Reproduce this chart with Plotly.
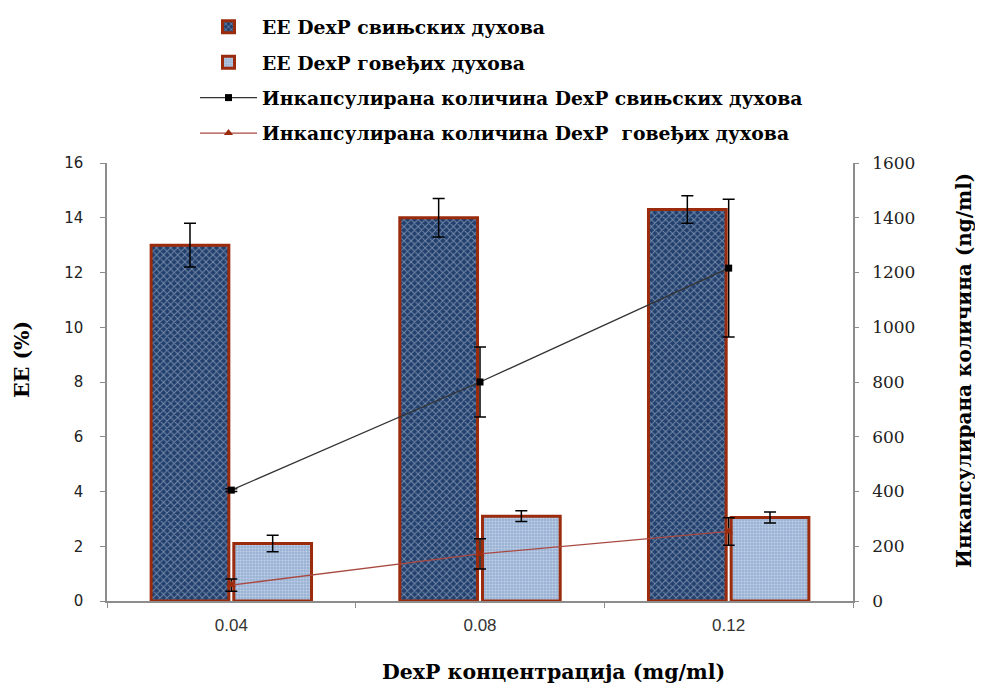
import plotly.graph_objects as go

categories = ["0.04", "0.08", "0.12"]

ee_swine = [13.0, 14.0, 14.3]
ee_swine_err = [0.8, 0.7, 0.5]
ee_beef = [2.1, 3.1, 3.05]
ee_beef_err = [0.3, 0.2, 0.2]

amt_swine = [405, 800, 1216]
amt_swine_err = [5, 128, 252]
amt_beef = [58, 172, 254]
amt_beef_err = [22, 55, 50]

names = [
    "EE DexP свињских духова",
    "EE DexP говеђих духова",
    "Инкапсулирана количина DexP свињских духова",
    "Инкапсулирана количина DexP  говеђих духова",
]

border = "#9a2b0c"
serif = "DejaVu Serif"

fig = go.Figure()
fig.add_trace(go.Bar(
    x=categories, y=ee_swine, name=names[0], legendgroup="a",
    marker=dict(color="#22406e", line=dict(color=border, width=3),
                pattern=dict(shape="x", fgcolor="#c9d4e4", bgcolor="#22406e", size=5, solidity=0.35)),
    error_y=dict(type="data", array=ee_swine_err, color="black", thickness=1.5, width=6),
))
fig.add_trace(go.Bar(
    x=categories, y=ee_beef, name=names[1], legendgroup="b",
    marker=dict(color="#98b1d4", line=dict(color=border, width=3),
                pattern=dict(shape=".", fgcolor="#eef2f8", bgcolor="#98b1d4", size=3, solidity=0.4)),
    error_y=dict(type="data", array=ee_beef_err, color="black", thickness=1.5, width=6),
))
fig.add_trace(go.Scatter(
    x=categories, y=amt_swine, name=names[2], legendgroup="c", yaxis="y2",
    mode="lines+markers",
    line=dict(color="#333333", width=1.3),
    marker=dict(symbol="square", size=7, color="black"),
    error_y=dict(type="data", array=amt_swine_err, color="black", thickness=1.5, width=6),
))
fig.add_trace(go.Scatter(
    x=categories, y=amt_beef, name=names[3], legendgroup="d", yaxis="y2",
    mode="lines+markers",
    line=dict(color="#a94a42", width=1.3),
    marker=dict(symbol="triangle-up", size=8, color="#9a2b0c"),
    error_y=dict(type="data", array=amt_beef_err, color="black", thickness=1.5, width=6),
))

# page-pixel plot area (body margin of 8px shifts everything)
PL, PR, PT, PB = 107, 853, 163, 601
OFF = 8
pw, ph = PR - PL, PB - PT

def px(x):
    return (x - PL) / pw

def py(y):
    return (PB - y) / ph

title_font = dict(family=serif, size=20.5, color="black")

fig.update_layout(
    width=983, height=686,
    margin=dict(l=PL - OFF, r=983 - (PR - OFF), t=PT - OFF, b=686 - (PB - OFF), autoexpand=False),
    paper_bgcolor="white", plot_bgcolor="white",
    barmode="group", bargap=0.335, bargroupgap=0.06,
    showlegend=True,
    legend=dict(x=px(195), y=1.0, yref="container", xanchor="left", yanchor="top",
                font=dict(family=serif, size=18.8, color="black", weight="bold"),
                tracegroupgap=8, itemwidth=57, bgcolor="rgba(0,0,0,0)"),
    xaxis=dict(type="category", showline=True, linecolor="#8c8c8c", linewidth=1.5,
               ticks="outside", tickson="boundaries", ticklen=5, tickcolor="#8c8c8c",
               tickfont=dict(family="Liberation Sans", size=17, color="#333333"),
               ticklabelstandoff=8,
               showgrid=False, zeroline=False),
    yaxis=dict(range=[0, 16], dtick=2, showline=True, linecolor="#8c8c8c", linewidth=1.5,
               ticks="outside", ticklen=5, tickcolor="#8c8c8c",
               tickfont=dict(family="DejaVu Sans", size=15, color="#222222"),
               ticklabelstandoff=14,
               showgrid=False, zeroline=False),
    yaxis2=dict(range=[0, 1600], dtick=200, overlaying="y", side="right",
                showline=True, linecolor="#8c8c8c", linewidth=1.5,
                ticks="outside", ticklen=4, tickcolor="#8c8c8c",
                tickfont=dict(family=serif, size=17, color="#222222"),
                ticklabelstandoff=10,
                showgrid=False, zeroline=False),
    annotations=[
        dict(text="<b>EE (%)</b>", x=px(22), y=py(360), xref="paper", yref="paper",
             xanchor="center", yanchor="middle",
             showarrow=False, textangle=-90, font=title_font),
        dict(text="<b>Инкапсулирана количина (ng/ml)</b>", x=px(964), y=py(371),
             xref="paper", yref="paper", xanchor="center", yanchor="middle",
             showarrow=False, textangle=-90, font=dict(family=serif, size=20, color="black")),
        dict(text="<b>DexP концентрација (mg/ml)</b>", x=px(553), y=py(672),
             xref="paper", yref="paper", xanchor="center", yanchor="middle",
             showarrow=False, font=title_font),
    ],
)

fig.write_html("out.html")
